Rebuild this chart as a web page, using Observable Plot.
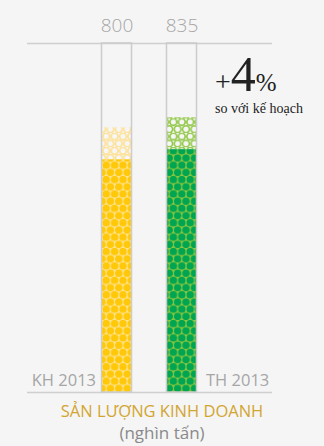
<!DOCTYPE html>
<html>
<head>
<meta charset="utf-8">
<script src="https://cdn.jsdelivr.net/npm/d3@7"></script>
<script src="https://cdn.jsdelivr.net/npm/@observablehq/plot@0.6"></script>
<style>
  html, body { margin: 0; padding: 0; background: #f5f5f5; }
  #wrap { position: relative; width: 324px; height: 446px; overflow: hidden; font-family: "Open Sans", sans-serif; }
  #note { position: absolute; left: 215px; top: 47px; font-family: "Liberation Serif", "DejaVu Serif", serif; color: #222; }
  #note .big { line-height: 54px; white-space: nowrap; }
  #note .sub { font-size: 14px; margin-top: -12px; white-space: nowrap; }
  #cap1 { position: absolute; left: 0; width: 324px; top: 399px; text-align: center; color: #d2a531; font-size: 16.5px; }
  #cap2 { position: absolute; left: 0; width: 324px; top: 421px; text-align: center; color: #8a8a8a; font-size: 17px; }
</style>
</head>
<body>
<div id="wrap">
  <div id="chart"></div>
  <div id="note"><div class="big"><span style="font-size:28px">+</span><span style="font-size:50px">4</span><span style="font-size:25px">%</span></div><div class="sub">so với kế hoạch</div></div>
  <div id="cap1">SẢN LƯỢNG KINH DOANH</div>
  <div id="cap2">(nghìn tấn)</div>
</div>
<script>
// Data
const categories = ["KH 2013", "TH 2013"];
const values = [800, 835];
const foam = [110, 110];
const scaleMax = 1200;
const solidPatterns = ["url(#solidY)", "url(#solidG)"];
const foamPatterns = ["url(#foamY)", "url(#foamG)"];

const data = categories.map((c, i) => ({cat: c, value: values[i], foam: foam[i], idx: i}));

const marks = [
  Plot.ruleY([0, scaleMax], {stroke: "#cfcfcf", strokeWidth: 1.5})
];
data.forEach((d, i) => {
  marks.push(Plot.barY([d], {x: "cat", y1: "value", y2: dd => dd.value + dd.foam, fill: foamPatterns[i]}));
  marks.push(Plot.barY([d], {x: "cat", y1: 0, y2: "value", fill: solidPatterns[i]}));
});
marks.push(Plot.barY(data, {x: "cat", y1: 0, y2: scaleMax, fill: "none", stroke: "#cccccc", strokeWidth: 1.5}));
marks.push(Plot.axisX({anchor: "top", tickSize: 0, tickPadding: 12, label: null,
  tickFormat: c => String(values[categories.indexOf(c)]),
  fontSize: 19, fill: "#a6a6a6", fontWeight: 300}));
marks.push(Plot.text(data.filter(d => d.idx === 0), {x: "cat", y: 0, text: "cat", textAnchor: "end", dx: -21, dy: -12, fontSize: 16.5, fill: "#a6a6a6"}));
marks.push(Plot.text(data.filter(d => d.idx === 1), {x: "cat", y: 0, text: "cat", textAnchor: "start", dx: 24, dy: -12, fontSize: 16.5, fill: "#a6a6a6"}));

const chart = Plot.plot({
  width: 324,
  height: 400,
  marginLeft: 27,
  marginRight: 52,
  marginTop: 43,
  marginBottom: 8,
  style: {background: "transparent", fontFamily: "Open Sans, sans-serif"},
  x: {type: "band", domain: categories, range: [101.5, 196.5], paddingInner: 35 / 65, paddingOuter: 0, round: false},
  y: {domain: [0, scaleMax], axis: null},
  marks
});

const ns = "http://www.w3.org/2000/svg";
const defs = document.createElementNS(ns, "defs");
function pattern(id, bg, fill, stroke) {
  const w = 8.4, h = 14.4, r = 3.7;
  const p = document.createElementNS(ns, "pattern");
  p.setAttribute("id", id);
  p.setAttribute("patternUnits", "userSpaceOnUse");
  p.setAttribute("width", w);
  p.setAttribute("height", h);
  p.setAttribute("x", 102);
  p.setAttribute("y", 392);
  const rect = document.createElementNS(ns, "rect");
  rect.setAttribute("width", w); rect.setAttribute("height", h); rect.setAttribute("fill", bg);
  p.appendChild(rect);
  [[w / 2, h / 4], [0, 3 * h / 4], [w, 3 * h / 4]].forEach(([cx, cy]) => {
    const c = document.createElementNS(ns, "circle");
    c.setAttribute("cx", cx); c.setAttribute("cy", cy); c.setAttribute("r", stroke ? r - 0.3 : r);
    c.setAttribute("fill", fill);
    if (stroke) { c.setAttribute("stroke", stroke); c.setAttribute("stroke-width", 1.6); }
    p.appendChild(c);
  });
  defs.appendChild(p);
}
pattern("solidY", "#ffe38e", "#ffc808", null);
pattern("solidG", "#8dc63f", "#00a551", null);
pattern("foamY", "#f6f6f6", "#f6f6f6", "#ffe08f");
pattern("foamG", "#f6f6f6", "#f6f6f6", "#8dc63f");
chart.insertBefore(defs, chart.firstChild);

document.getElementById("chart").appendChild(chart);
</script>
</body>
</html>
